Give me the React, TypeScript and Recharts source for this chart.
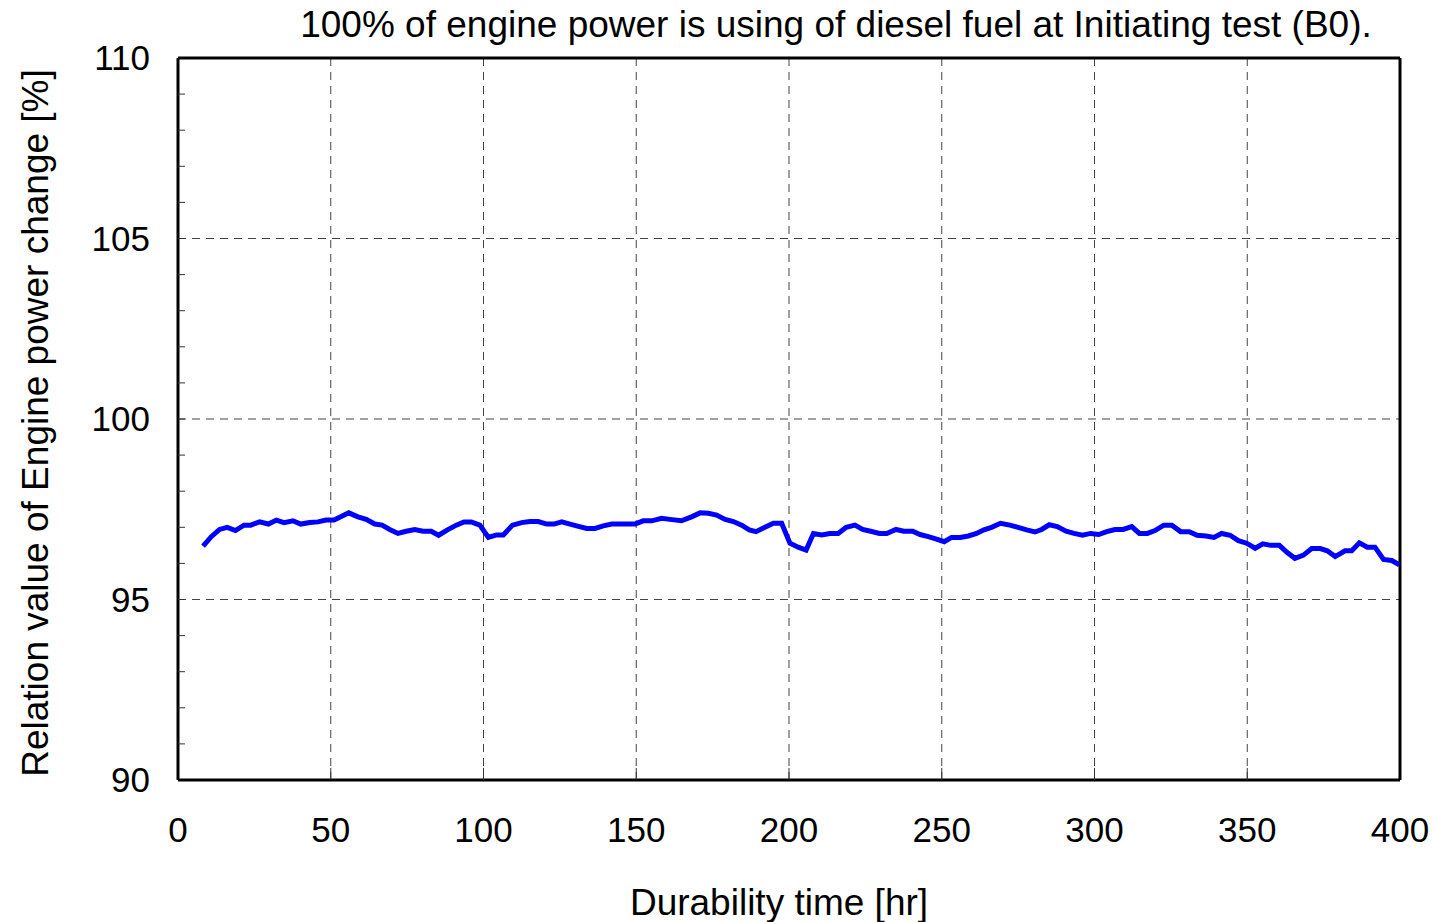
import React from "react";
import { LineChart, Line, XAxis, YAxis, ReferenceLine } from "recharts";

const hours = [
  8.2, 10.9, 13.6, 16.1, 18.8, 21.6, 23.8, 26.7, 29.6, 32.2, 34.7, 37.6, 40.2, 43.1, 45.8, 48.5, 51.1, 55.9, 58.9, 61.6,
  64.4, 66.8, 69.3, 72.0, 74.7, 77.5, 80.2, 82.9, 85.3, 88.2, 91.1, 93.6, 96.0, 98.8, 101.6, 104.3, 106.5, 109.5, 112.5, 115.2,
  117.9, 120.7, 123.1, 125.6, 128.3, 131.4, 133.8, 136.5, 139.2, 142.0, 144.7, 149.6, 152.3, 155.1, 158.3, 161.0, 164.8, 168.1, 170.9, 173.6,
  176.3, 179.1, 181.8, 184.5, 187.0, 189.2, 192.1, 194.9, 197.6, 200.3, 203.0, 205.6, 208.0, 210.7, 213.4, 216.1, 218.7, 221.6, 224.1, 226.7,
  229.6, 232.0, 235.0, 237.6, 240.5, 242.9, 245.6, 248.3, 250.8, 253.2, 256.0, 258.7, 261.4, 263.8, 266.3, 269.2, 272.3, 275.0, 277.8, 280.5,
  282.7, 285.2, 287.8, 290.7, 293.3, 296.1, 298.7, 301.4, 304.0, 306.7, 309.4, 312.2, 314.7, 317.3, 319.8, 322.7, 325.3, 328.2, 331.0, 333.6,
  336.5, 339.1, 341.6, 344.4, 347.1, 349.8, 352.6, 355.1, 357.7, 360.5, 363.1, 365.6, 368.4, 371.1, 373.9, 376.2, 378.8, 382.0, 384.2, 386.7,
  389.3, 391.8, 394.6, 397.3, 399.8,
];

const powerChange = [
  96.48, 96.74, 96.94, 97.0, 96.91, 97.06, 97.06, 97.15, 97.09, 97.2, 97.13, 97.18, 97.09, 97.13, 97.15, 97.2, 97.2, 97.4, 97.29, 97.22,
  97.09, 97.06, 96.94, 96.83, 96.89, 96.94, 96.89, 96.89, 96.78, 96.93, 97.06, 97.15, 97.15, 97.06, 96.72, 96.79, 96.79, 97.06, 97.13, 97.16,
  97.16, 97.09, 97.09, 97.15, 97.09, 97.02, 96.97, 96.97, 97.04, 97.09, 97.09, 97.09, 97.18, 97.18, 97.25, 97.22, 97.18, 97.29, 97.4, 97.39,
  97.34, 97.22, 97.16, 97.06, 96.93, 96.88, 97.0, 97.11, 97.11, 96.56, 96.45, 96.37, 96.83, 96.79, 96.83, 96.83, 97.0, 97.06, 96.94, 96.89,
  96.83, 96.83, 96.94, 96.89, 96.89, 96.8, 96.74, 96.67, 96.6, 96.72, 96.72, 96.76, 96.83, 96.93, 97.0, 97.11, 97.06, 97.0, 96.93, 96.87,
  96.94, 97.07, 97.02, 96.89, 96.83, 96.78, 96.83, 96.8, 96.88, 96.94, 96.94, 97.02, 96.83, 96.83, 96.91, 97.06, 97.06, 96.88, 96.88, 96.78,
  96.76, 96.72, 96.83, 96.78, 96.63, 96.56, 96.42, 96.54, 96.5, 96.5, 96.3, 96.14, 96.23, 96.41, 96.41, 96.35, 96.19, 96.35, 96.35, 96.57,
  96.45, 96.45, 96.11, 96.08, 95.96,
];

const xTicks = [0, 50, 100, 150, 200, 250, 300, 350, 400];
const yTicks = [90, 91, 92, 93, 94, 95, 96, 97, 98, 99, 100, 101, 102, 103, 104, 105, 106, 107, 108, 109, 110];
const xGrid = [50, 100, 150, 200, 250, 300, 350];
const yGrid = [95, 100, 105];

const title = "100% of engine power is using of diesel fuel at Initiating test (B0).";
const xTitle = "Durability time [hr]";
const yTitle = "Relation value of Engine power change [%]";

const data = hours.map((h, i) => ({ h, v: powerChange[i] }));

const FONT = "'Liberation Sans', Arial, sans-serif";
const FS = 35;
const TFS = 37;

const Y_MARGIN = 28;
const X_MARGIN = 40;

const YTick = (props: any) => {
  const { x, y, payload } = props;
  const v = payload.value;
  const ax = x + Y_MARGIN;
  return (
    <g>
      {v > 90 && v < 110 && <line x1={ax} y1={y} x2={ax + 7} y2={y} stroke="#333" strokeWidth={1} />}
      {v % 5 === 0 && (
        <text x={x} y={y} dy="0.355em" textAnchor="end" fontSize={FS} fontFamily={FONT} fill="#000">
          {v}
        </text>
      )}
    </g>
  );
};

const XTick = (props: any) => {
  const { x, y, payload } = props;
  const v = payload.value;
  const ay = y - X_MARGIN;
  return (
    <g>
      {v > 0 && v < 400 && <line x1={x} y1={ay} x2={x} y2={ay - 12} stroke="#333" strokeWidth={1} />}
      <text x={x} y={y} dy="0.62em" textAnchor="middle" fontSize={FS} fontFamily={FONT} fill="#000">
        {v}
      </text>
    </g>
  );
};

export default function App() {
  return (
    <div style={{ position: "absolute", left: 0, top: 0, width: 1432, height: 922, background: "#fff" }}>
      <LineChart
        width={1432}
        height={922}
        data={data}
        margin={{ top: 58, right: 32, bottom: 62, left: 78 }}
      >
        {xGrid.map((g) => (
          <ReferenceLine key={"x" + g} x={g} xAxisId="b" yAxisId="l" stroke="#444" strokeDasharray="8 6" strokeWidth={1} />
        ))}
        {yGrid.map((g) => (
          <ReferenceLine key={"y" + g} y={g} xAxisId="b" yAxisId="l" stroke="#444" strokeDasharray="8 6" strokeWidth={1} />
        ))}
        <XAxis
          xAxisId="b"
          dataKey="h"
          type="number"
          domain={[0, 400]}
          ticks={xTicks}
          height={80}
          tickSize={0}
          tickMargin={X_MARGIN}
          tick={<XTick />}
          axisLine={{ stroke: "#000", strokeWidth: 3 }}
          tickLine={false}
          interval={0}
          allowDataOverflow
        />
        <YAxis
          yAxisId="l"
          type="number"
          domain={[90, 110]}
          ticks={yTicks}
          width={100}
          tickSize={0}
          tickMargin={Y_MARGIN}
          tick={<YTick />}
          axisLine={{ stroke: "#000", strokeWidth: 3 }}
          tickLine={false}
          interval={0}
          allowDataOverflow
        />
        <ReferenceLine y={110} xAxisId="b" yAxisId="l" stroke="#000" strokeWidth={3} />
        <ReferenceLine x={400} xAxisId="b" yAxisId="l" stroke="#000" strokeWidth={3} />
        <Line
          xAxisId="b"
          yAxisId="l"
          type="linear"
          dataKey="v"
          stroke="#0000ff"
          strokeWidth={5}
          dot={false}
          isAnimationActive={false}
        />
      </LineChart>
      <svg
        width={1432}
        height={922}
        style={{ position: "absolute", left: 0, top: 0, pointerEvents: "none" }}
      >
        <text x={836} y={24} dy="0.355em" textAnchor="middle" fontSize={TFS} fontFamily={FONT} fill="#000">
          {title}
        </text>
        <text x={779} y={902} dy="0.355em" textAnchor="middle" fontSize={TFS} fontFamily={FONT} fill="#000">
          {xTitle}
        </text>
        <text
          x={35}
          y={423}
          dy="0.355em"
          textAnchor="middle"
          fontSize={TFS}
          fontFamily={FONT}
          fill="#000"
          transform="rotate(-90 35 423)"
        >
          {yTitle}
        </text>
      </svg>
    </div>
  );
}
